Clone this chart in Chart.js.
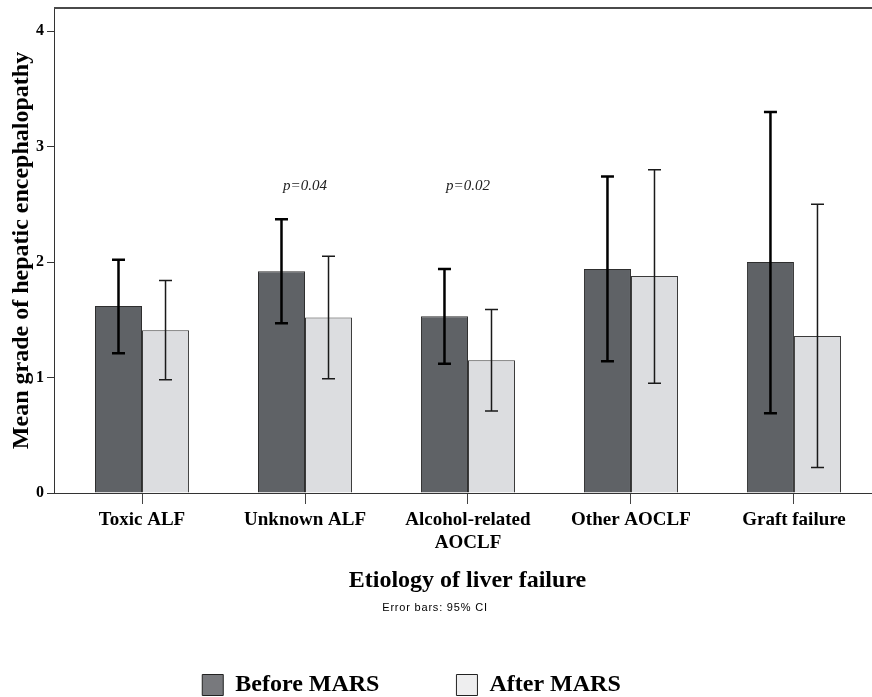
<!DOCTYPE html>
<html>
<head>
<meta charset="utf-8">
<script src="https://cdn.jsdelivr.net/npm/chart.js@4.4.0/dist/chart.umd.min.js"></script>
<style>
  html, body { margin: 0; padding: 0; background: #fff; overflow: hidden; }
  #wrap { position: relative; width: 900px; height: 707px; }
</style>
</head>
<body>
<div id="wrap"><canvas id="myChart"></canvas></div>
<script>
// data
var categories = ['Toxic ALF', 'Unknown ALF', ['Alcohol-related', 'AOCLF'], 'Other AOCLF', 'Graft failure'];
var seriesNames = ['Before MARS', 'After MARS'];
var beforeMean = [1.62, 1.92, 1.53, 1.94, 2.00];
var beforeLow  = [1.21, 1.47, 1.12, 1.14, 0.69];
var beforeHigh = [2.02, 2.37, 1.94, 2.74, 3.30];
var afterMean  = [1.41, 1.52, 1.15, 1.88, 1.36];
var afterLow   = [0.98, 0.99, 0.71, 0.95, 0.22];
var afterHigh  = [1.84, 2.05, 1.59, 2.80, 2.50];
var pValues = ['', 'p=0.04', 'p=0.02', '', ''];
var pValueY = 2.66;
var yTicks = [0, 1, 2, 3, 4];

Chart.defaults.font.family = '"Liberation Serif", "Times New Roman", serif';
Chart.defaults.color = '#000';

var ciSets = [
  { low: beforeLow, high: beforeHigh, color: '#000', width: 2.5 },
  { low: afterLow, high: afterHigh, color: '#1a1a1a', width: 1.5 }
];
var legendColors = ['#78797d', '#eeeeef'];

// error bars, p values, top frame line, footnote
var extras = {
  id: 'extras',
  afterLayout: function (chart) {
    var lg = chart.legend;
    if (lg) {
      var dx = 411.5 - (lg.left + lg.right) / 2;
      lg.left += dx;
      lg.right += dx;
    }
  },
  afterDatasetsDraw: function (chart) {
    var ctx = chart.ctx, y = chart.scales.y, x = chart.scales.x, area = chart.chartArea;
    ctx.save();
    ctx.strokeStyle = '#4a4a4a';
    ctx.lineWidth = 2;
    ctx.beginPath();
    ctx.moveTo(area.left, area.top);
    ctx.lineTo(area.right, area.top);
    ctx.stroke();

    ciSets.forEach(function (ci, d) {
      var meta = chart.getDatasetMeta(d);
      ctx.strokeStyle = ci.color;
      ctx.lineWidth = ci.width;
      meta.data.forEach(function (bar, i) {
        var top = y.getPixelForValue(ci.high[i]);
        var bot = y.getPixelForValue(ci.low[i]);
        ctx.beginPath();
        ctx.moveTo(bar.x, top); ctx.lineTo(bar.x, bot);
        ctx.moveTo(bar.x - 6.5, top); ctx.lineTo(bar.x + 6.5, top);
        ctx.moveTo(bar.x - 6.5, bot); ctx.lineTo(bar.x + 6.5, bot);
        ctx.stroke();
      });
    });

    ctx.fillStyle = '#222';
    ctx.textAlign = 'center';
    ctx.textBaseline = 'middle';
    ctx.font = 'italic 15px "Liberation Serif"';
    pValues.forEach(function (p, i) {
      if (p) ctx.fillText(p, x.getPixelForValue(i), y.getPixelForValue(pValueY));
    });

    ctx.fillStyle = '#000';
    ctx.font = '11px "Liberation Sans"';
    ctx.letterSpacing = '0.8px';
    ctx.fillText('Error bars: 95% CI', 435, 608);
    ctx.restore();
  }
};

var ctx = document.getElementById('myChart').getContext('2d');
var myChart = new Chart(ctx, {
  type: 'bar',
  data: {
    datasets: [{
      label: seriesNames[0],
      data: beforeMean.map(function (v, i) { return { x: i, y: v }; }),
      backgroundColor: '#5f6266',
      borderColor: '#2e2e2e',
      borderWidth: 1
    }, {
      label: seriesNames[1],
      data: afterMean.map(function (v, i) { return { x: i, y: v }; }),
      backgroundColor: '#dcdde0',
      borderColor: '#3a3a3a',
      borderWidth: 1
    }]
  },
  options: {
    responsive: true,
    maintainAspectRatio: false,
    animation: false,
    categoryPercentage: 0.577,
    barPercentage: 1,
    layout: { padding: { top: 8, right: 19, left: 0, bottom: 0 } },
    scales: {
      x: {
        type: 'linear',
        offset: false,
        min: -0.54,
        max: 4.534,
        afterBuildTicks: function (s) { s.ticks = categories.map(function (c, i) { return { value: i }; }); },
        afterFit: function (s) { s.height = 103; s.paddingLeft = 0; s.paddingRight = 0; },
        grid: { offset: false, drawOnChartArea: false, tickLength: 11, color: '#444' },
        border: { color: '#333', width: 1 },
        ticks: {
          maxRotation: 0,
          autoSkip: false,
          padding: 5,
          font: { size: 19, weight: 'bold' },
          callback: function (v) { return categories[v]; }
        },
        title: {
          display: true,
          text: 'Etiology of liver failure',
          font: { size: 24, weight: 'bold' },
          padding: { top: 0, bottom: 1 }
        }
      },
      y: {
        min: 0,
        max: 4.2,
        afterBuildTicks: function (s) { s.ticks = yTicks.map(function (v) { return { value: v }; }); },
        afterFit: function (s) { s.width = 54; s.paddingTop = 0; s.paddingBottom = 0; },
        grid: { drawOnChartArea: false, tickLength: 7, color: '#333' },
        border: { color: '#333', width: 1 },
        ticks: { padding: 3, font: { size: 16, weight: 'bold' } },
        title: {
          display: true,
          text: 'Mean grade of hepatic encephalopathy',
          font: { size: 24, weight: 'bold' },
          padding: { top: 7, bottom: 0 }
        }
      }
    },
    plugins: {
      legend: {
        position: 'bottom',
        labels: {
          boxWidth: 21,
          boxHeight: 21,
          padding: 77,
          color: '#000',
          font: { size: 24, weight: 'bold' },
          generateLabels: function (chart) {
            var items = Chart.defaults.plugins.legend.labels.generateLabels(chart);
            items.forEach(function (it, i) { it.fillStyle = legendColors[i]; it.strokeStyle = '#222'; it.lineWidth = 1; });
            return items;
          }
        }
      },
      tooltip: { enabled: false }
    }
  },
  plugins: [extras]
});
</script>
</body>
</html>
